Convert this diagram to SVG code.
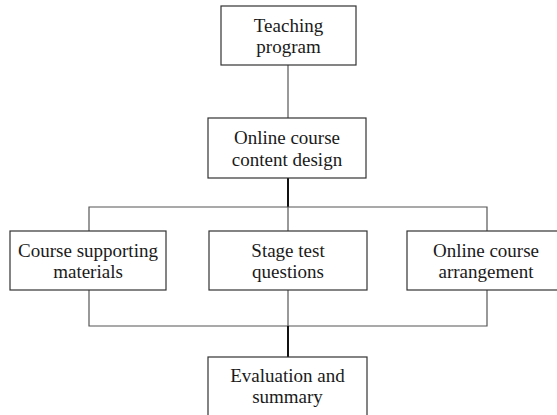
<svg xmlns="http://www.w3.org/2000/svg" width="557" height="415" viewBox="0 0 557 415">
  <style>
    .box { fill: #ffffff; stroke: #333333; stroke-width: 1.2; }
    .lbl { font-size: 19px; fill: #1a1a1a; text-anchor: middle; }
    .thin { stroke: #555555; stroke-width: 1.2; fill: none; }
    .thick { stroke: #111111; stroke-width: 2; fill: none; }
  </style>
  <rect width="557" height="415" fill="#ffffff"/>
  <g id="connectors">
    <line class="thin" x1="288" y1="65" x2="288" y2="118"/>
    <line class="thick" x1="288" y1="178" x2="288" y2="207"/>
    <polyline class="thin" points="89,231 89,207 487,207 487,231"/>
    <line class="thin" x1="288" y1="207" x2="288" y2="231"/>
    <polyline class="thin" points="89,290 89,326 487,326 487,290"/>
    <line class="thin" x1="288" y1="290" x2="288" y2="326"/>
    <line class="thick" x1="288" y1="326" x2="288" y2="357"/>
  </g>
  <g font-family="'Liberation Serif', 'DejaVu Serif', serif">
  <g id="teaching-program">
    <rect class="box" x="221" y="6" width="135" height="59"/>
    <text class="lbl" x="288.5" y="32">Teaching</text>
    <text class="lbl" x="288.5" y="53">program</text>
  </g>
  <g id="content-design">
    <rect class="box" x="208" y="118" width="158" height="60"/>
    <text class="lbl" x="287" y="144">Online course</text>
    <text class="lbl" x="287" y="166">content design</text>
  </g>
  <g id="supporting-materials">
    <rect class="box" x="10" y="231" width="156" height="59"/>
    <text class="lbl" x="88" y="257">Course supporting</text>
    <text class="lbl" x="88" y="278">materials</text>
  </g>
  <g id="stage-test">
    <rect class="box" x="209" y="231" width="158" height="59"/>
    <text class="lbl" x="288" y="257">Stage test</text>
    <text class="lbl" x="288" y="278">questions</text>
  </g>
  <g id="course-arrangement">
    <rect class="box" x="407" y="231" width="158" height="59"/>
    <text class="lbl" x="486" y="257">Online course</text>
    <text class="lbl" x="486" y="278">arrangement</text>
  </g>
  <g id="evaluation-summary">
    <rect class="box" x="208" y="357" width="159" height="60"/>
    <text class="lbl" x="287.5" y="382">Evaluation and</text>
    <text class="lbl" x="287.5" y="403">summary</text>
  </g>
  </g>
</svg>
